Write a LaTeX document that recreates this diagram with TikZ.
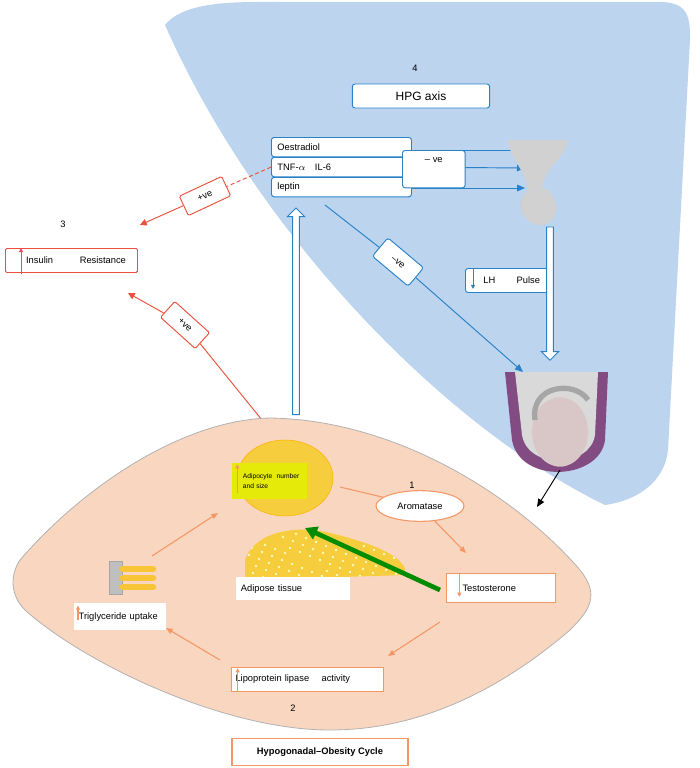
\documentclass[tikz,border=0pt]{standalone}
\usepackage{fontspec}
\setmainfont{Liberation Sans}
\usetikzlibrary{arrows.meta, shapes.geometric, shapes.arrows, positioning, backgrounds}
\definecolor{hpgblue}{RGB}{188,212,238}
\definecolor{lineblue}{RGB}{40,130,200}
\definecolor{peach}{RGB}{249,214,192}
\definecolor{redline}{RGB}{235,80,60}
\definecolor{orangeline}{RGB}{245,150,100}
\definecolor{fatyellow}{RGB}{246,205,60}
\tikzset{
  bluebox/.style={draw=lineblue, fill=white, rounded corners=2pt, line width=.7pt, font=\scriptsize, inner sep=2pt},
  redbox/.style={draw=redline, fill=white, rounded corners=1pt, line width=.7pt, font=\scriptsize, inner sep=2pt},
  orangebox/.style={draw=orangeline, fill=white, line width=.8pt, font=\scriptsize, inner sep=2pt},
  bluearrow/.style={draw=lineblue, line width=.7pt, -{Triangle[length=6pt,width=5pt]}},
  redarrow/.style={draw=redline, line width=.7pt, -{Triangle[length=5pt,width=5pt]}},
  orangearrow/.style={draw=orangeline, line width=.8pt, -{Triangle[length=5pt,width=4pt]}},
  openarrow/.style={single arrow, draw=lineblue, fill=white, line width=.7pt, minimum width=13pt, single arrow head extend=3pt, inner sep=1.5pt}
}
\begin{document}
\begin{tikzpicture}[x=0.75pt, y=-0.75pt]
\useasboundingbox (0,0) rectangle (700,768);
\begin{scope}[on background layer]
%%% HPG region
\fill[hpgblue] (165,25) .. controls (185,0) and (240,2) .. (280,2) -- (660,2)
  .. controls (690,2) and (690,20) .. (690,40) -- (668,450)
  .. controls (665,480) and (640,500) .. (605,505)
  .. controls (450,430) and (260,240) .. (165,25) -- cycle;
\end{scope}
%%% HPG axis
\node at (415,68) {\scriptsize 4};
\node (hpg) [bluebox, minimum width=103pt, minimum height=18pt, font=\small] at (421,96) {HPG axis};
\node (oes) [bluebox, minimum width=105pt, minimum height=14.5pt, anchor=north west, text width=96pt] at (271,137) {Oestradiol};
\node (tnf) [bluebox, minimum width=105pt, minimum height=14.5pt, anchor=north west, text width=96pt] at (271,157) {TNF-$\alpha$\quad IL-6};
\node (lep) [bluebox, minimum width=105pt, minimum height=14.5pt, anchor=north west, text width=96pt] at (271,177) {leptin};
\coordinate (pit) at (525,168);
\node (neg1) [bluebox, minimum width=47pt, minimum height=28pt, anchor=north west, text depth=14pt] at (402,150) {-- ve};
%%% pituitary
\fill[black!18] (508,140) -- (568,140) .. controls (565,160) and (545,165) .. (542,188)
  .. controls (560,192) and (562,222) .. (542,225) .. controls (525,226) and (512,205) .. (528,190)
  .. controls (526,170) and (510,160) .. (508,140) -- cycle;
%%% testis
\coordinate (tes) at (523,372);
\fill[violet!60!black!70] (505,372) -- (608,372) -- (605,440) .. controls (600,480) and (520,485) .. (512,440) -- cycle;
\fill[gray!30] (515,372) -- (598,372) -- (595,435) .. controls (590,468) and (528,470) .. (522,435) -- cycle;
\fill[pink!50!gray!60] (560,432) ellipse (21pt and 26pt);
\draw[gray!70, line width=4pt] (535,420) .. controls (530,385) and (575,380) .. (588,400);
\node (lh) [bluebox, minimum width=65pt, minimum height=18pt, anchor=north west, text width=56pt] at (465,268) {\hspace{9pt}LH\hspace{16pt}Pulse};
\draw[bluearrow, -{Triangle[length=3pt,width=3pt]}] ([xshift=6pt]lh.north west) -- ([xshift=6pt,yshift=3pt]lh.south west);
\node (neg2) [bluebox, rotate=-40, minimum width=35pt, minimum height=18pt] at (398,262) {--ve};
\node (down) [openarrow, shape border rotate=270, minimum height=100pt] at (550,292) {};
%%% insulin resistance
\node at (63,224) {\scriptsize 3};
\node (ins) [redbox, minimum width=99pt, minimum height=18pt, anchor=north west, text width=90pt] at (5,248) {\hspace{11pt}Insulin\hspace{20pt}Resistance};
\draw[redarrow, -{Triangle[length=3pt,width=3pt]}] ([xshift=12pt,yshift=-1pt]ins.south west) -- ([xshift=12pt]ins.north west);
\node (pos1) [redbox, rotate=25, minimum width=35pt, minimum height=16pt] at (205,196) {+ve};
\node (pos2) [redbox, rotate=-42, minimum width=35pt, minimum height=16pt] at (185,325) {+ve};
%%% cycle
\draw[fill=peach, draw=black!30, line width=.6pt] (20,560)
  .. controls (80,490) and (180,420) .. (270,418)
  .. controls (400,420) and (520,500) .. (580,570)
  .. controls (600,595) and (590,610) .. (570,630)
  .. controls (500,690) and (420,730) .. (330,730)
  .. controls (220,730) and (80,660) .. (25,610)
  .. controls (10,595) and (10,575) .. (20,560) -- cycle;
\node (up) [openarrow, shape border rotate=90, minimum height=155pt] at (296,313) {};
\draw[fill=fatyellow, draw=orange!60!yellow] (285,478) ellipse (36pt and 28.5pt);
\node (adi) [fill=yellow!90!green, minimum width=56pt, minimum height=27pt, anchor=north west, text width=52pt, font=\tiny, inner sep=2pt, align=left] at (232,463) {\hspace{6pt}Adipocyte\ \ number\\[1pt]\hspace{6pt}and size};
\draw[orangearrow, -{Triangle[length=3pt,width=3pt]}] ([xshift=4pt,yshift=-9pt]adi.west) -- ([xshift=4pt,yshift=-1pt]adi.north west);
\node at (412,485) {\scriptsize 1};
\node (aro) [ellipse, draw=orangeline, fill=white, line width=.8pt, minimum width=66pt, minimum height=23pt, font=\scriptsize] at (420,506) {Aromatase};
\begin{scope}
\clip (245,560) .. controls (255,530) and (300,525) .. (330,533) .. controls (360,540) and (410,555) .. (405,575) -- (245,580) -- cycle;
\fill[fatyellow] (240,520) rectangle (410,580);
\foreach \i in {0,...,80}{\fill[white!75!yellow] ({248+mod(\i*37,158)},{530+mod(\i*23,48)}) circle (1.1pt);}
\end{scope}
\node (adt) [fill=white, minimum width=85pt, minimum height=17pt, anchor=north west, text width=78pt, font=\scriptsize] at (236,577) {Adipose tissue};
\node (tgi) [fill=black!25, draw=black!35, minimum width=10pt, minimum height=25pt, inner sep=0pt] at (116,578) {};
\foreach \dy in {-9,0,9}{\draw[fatyellow!90!orange, line width=5pt, line cap=round] ([yshift=-\dy*0.75pt]tgi.east) -- ++(30,0);}
\node (tri) [fill=white, minimum width=67pt, minimum height=20pt, anchor=north west, text width=62pt, font=\scriptsize] at (74,603) {Triglyceride uptake};
\draw[orangearrow, -{Triangle[length=3pt,width=3pt]}] ([xshift=3pt,yshift=-13pt]tri.north west) -- ([xshift=3pt,yshift=-2pt]tri.north west);
\node (tst) [orangebox, minimum width=82pt, minimum height=22pt, anchor=north west, text width=72pt] at (446,573) {\hspace{7pt}Testosterone};
\draw[orangearrow, -{Triangle[length=3pt,width=3pt]}] ([xshift=10pt,yshift=-1pt]tst.north west) -- ([xshift=10pt,yshift=5pt]tst.south west);
\node (lpl) [orangebox, minimum width=114pt, minimum height=18pt, anchor=north west, text width=108pt] at (231,667) {Lipoprotein lipase\quad\ activity};
\draw[orangearrow, -{Triangle[length=3pt,width=3pt]}] ([xshift=5pt,yshift=1pt]lpl.south west) -- ([xshift=5pt,yshift=-1pt]lpl.north west);
\node at (293,708) {\scriptsize 2};
\node (cyc) [orangebox, minimum width=132pt, minimum height=20pt, font=\scriptsize\bfseries] at (320,752) {Hypogonadal--Obesity Cycle};
%%% connectors behind the boxes
\begin{scope}[on background layer]
\draw[bluearrow] (oes.east|-0,150) -- (pit|-0,150);
\draw[bluearrow] (tnf.east) -- (pit);
\draw[bluearrow] (lep.east|-0,188) -- (pit|-0,188);
\draw[draw=lineblue, line width=.7pt] (325,205) -- (neg2);
\draw[bluearrow] (neg2) -- (tes);
\draw[redline, densely dashed, line width=.7pt] (tnf.west) -- (pos1);
\draw[redarrow] (pos1) -- (140,225);
\draw[redline, line width=.7pt] (262,420) -- (pos2);
\draw[redarrow] (pos2) -- (128,293);
\end{scope}
\draw[orangeline, line width=.8pt] (340,487) -- (aro);
\draw[orangearrow] (aro) -- (466,553);
\draw[orangearrow] (440,622) -- (388,656);
\draw[orangearrow] (220,660) -- (166,628);
\draw[orangearrow] (152,556) -- (218,513);
\draw[-{Triangle[length=9pt,width=10pt]}, draw=green!55!black, line width=3.5pt] (440,590) -- (305,528);
\draw[-{Triangle[length=6pt,width=5pt]}, line width=.7pt] (560,470) -- (537,507);
\end{tikzpicture}
\end{document}
